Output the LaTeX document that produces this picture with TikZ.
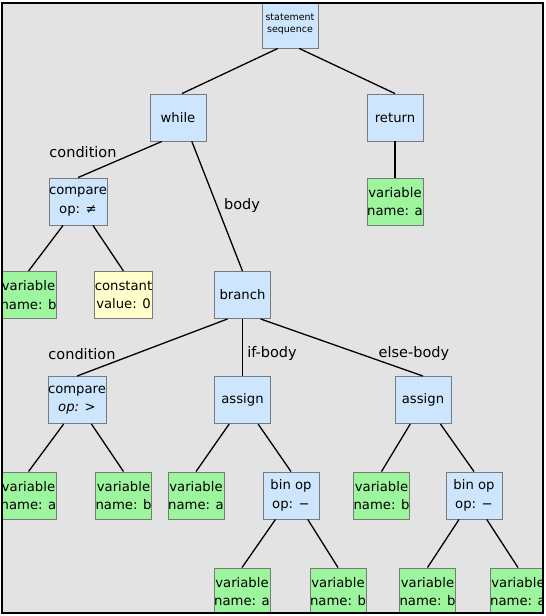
\documentclass[tikz,border=0pt]{standalone}
\usepackage{fontspec}
\setmainfont{DejaVu Sans}
\usetikzlibrary{calc}
\definecolor{bgc}{HTML}{E3E3E3}
\definecolor{bluec}{HTML}{CDE6FD}
\definecolor{greenc}{HTML}{9DF59D}
\definecolor{yellowc}{HTML}{FFFFCC}
\definecolor{borderc}{HTML}{7A7A7A}
\tikzset{
  box/.style={draw=borderc, line width=0.9pt, minimum width=56pt, minimum height=47pt, inner sep=0pt, align=center, font=\fontsize{13.2}{18.5}\selectfont},
  opbox/.style={box, fill=bluec},
  varbox/.style={box, fill=greenc},
  constbox/.style={box, fill=yellowc},
  edge/.style={line width=1.3pt, black},
  elabel/.style={font=\fontsize{14.5}{17}\selectfont, inner sep=0pt}
}
\begin{document}
\begin{tikzpicture}[x=1pt,y=-1pt]
\useasboundingbox (0,0) rectangle (546,616);
\fill[bgc] (1.5,2.5) rectangle (543,613);
\begin{scope}
\clip (1.5,2.5) rectangle (543,613);
% nodes
\node[opbox, font=\fontsize{9.5}{12}\selectfont] (root) at (290,24.5) {statement\\sequence};
\node[opbox] (while) at (178,117.5) {while};
\node[opbox] (ret) at (395,117.5) {return};
\node[opbox] (cmp1) at (78,201.5) {compare\\op: ≠};
\node[varbox] (vara1) at (395,201.5) {variable\\name: a};
\node[varbox] (varb1) at (28.5,295) {variable\\name: b};
\node[constbox] (const) at (123.5,295) {constant\\value: 0};
\node[opbox] (branch) at (242.5,295) {branch};
\node[opbox] (cmp2) at (77,400) {compare\\\textit{op: >}};
\node[opbox] (asg1) at (242.5,400) {assign};
\node[opbox] (asg2) at (423,400) {assign};
\node[varbox] (va2) at (28.5,495.5) {variable\\name: a};
\node[varbox] (vb2) at (123.5,495.5) {variable\\name: b};
\node[varbox] (va3) at (196,495.5) {variable\\name: a};
\node[opbox] (bin1) at (291,495.5) {bin op\\op: −};
\node[varbox] (vb3) at (381.5,495.5) {variable\\name: b};
\node[opbox] (bin2) at (474,495.5) {bin op\\op: −};
\node[varbox] (va4) at (242,591.5) {variable\\name: a};
\node[varbox] (vb4) at (338,591.5) {variable\\name: b};
\node[varbox] (vb5) at (427.5,591.5) {variable\\name: b};
\node[varbox] (va5) at (518,591.5) {variable\\name: a};
% edges
\draw[edge] (root.-117) -- ($(while.north)+(4,0)$);
\draw[edge] (root.-69) -- (ret.north);
\draw[edge] (while.-124) -- (cmp1.north);
\draw[edge] (while.-60) -- (branch.north);
\draw[edge] (ret.south) -- (vara1.north);
\draw[edge] (cmp1.-122) -- (varb1.north);
\draw[edge] (cmp1.-58) -- (const.north);
\draw[edge] (branch.-122) -- (cmp2.north);
\draw[edge] (branch.south) -- (asg1.north);
\draw[edge] (branch.-53) -- (asg2.north);
\draw[edge] (cmp2.-119) -- (va2.north);
\draw[edge] (cmp2.-59) -- (vb2.north);
\draw[edge] (asg1.-119) -- (va3.north);
\draw[edge] (asg1.-57.5) -- (bin1.north);
\draw[edge] (asg2.-118) -- (vb3.north);
\draw[edge] (asg2.-54) -- (bin2.north);
\draw[edge] (bin1.-123) -- (va4.north);
\draw[edge] (bin1.-55) -- (vb4.north);
\draw[edge] (bin2.-122.5) -- (vb5.north);
\draw[edge] (bin2.-62) -- (va5.north);
% labels
\node[elabel] (l1) at (83,152) {condition};
\node[elabel] (l2) at (242,205) {body};
\node[elabel] (l3) at (82,354) {condition};
\node[elabel] (l4) at (272,353) {if-body};
\node[elabel] (l5) at (414,353) {else-body};
\end{scope}
\draw[line width=2pt] (1.5,2.5) rectangle (543,613);
\end{tikzpicture}
\end{document}
